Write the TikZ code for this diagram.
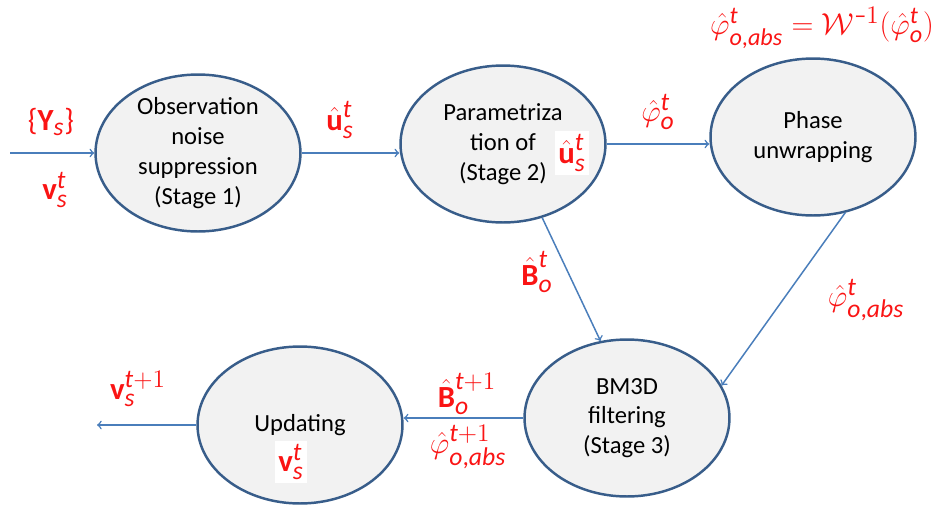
\documentclass[tikz,border=0pt]{standalone}
\usepackage{amsmath,amssymb}
\usepackage{fontspec}
\setmainfont{Carlito}
\usepackage[italic]{mathastext}
\usetikzlibrary{shapes.geometric}

\definecolor{edgeblue}{RGB}{56,93,138}
\definecolor{arrowblue}{RGB}{74,126,187}
\definecolor{fillgray}{RGB}{242,242,242}
\definecolor{labelred}{RGB}{250,20,20}
\newcommand{\bfv}{\text{\bfseries v}}
\newcommand{\bfB}{\text{\bfseries B}}
\newcommand{\bfY}{\text{\bfseries Y}}
\newcommand{\bfu}{\text{\bfseries u}}

\begin{document}
\begin{tikzpicture}[x=0.02cm,y=-0.02cm,
  stage/.style={ellipse,draw=edgeblue,line width=1.4pt,fill=fillgray,
    minimum width=4.1cm,minimum height=3.14cm,inner sep=0pt,align=center,
    font=\fontsize{14}{17}\selectfont},
  flow/.style={draw=arrowblue,line width=0.85pt,->},
  lbl/.style={text=labelred,inner sep=0pt,font=\fontsize{17.5}{20}\selectfont},
  whitebox/.style={lbl,fill=white,inner sep=2pt}]
\useasboundingbox (0,0) rectangle (947,507);

% stages
\node[stage] (obs) at (198,153) {Observation\\noise\\suppression\\(Stage 1)};
\node[stage] (par) at (503,144) {Parametriza\\tion of\\(Stage 2)};
\node[stage] (pha) at (813,137) {Phase\\unwrapping};
\node[stage] (bmd) at (627,418) {BM3D\\filtering\\(Stage 3)};
\node[stage] (upd) at (300,425) {Updating};
\node[whitebox] (upar) at (572,153) {$\hat{\bfu}_s^t$};
\node[whitebox] (vupd) at (291,462) {$\bfv_s^t$};

% free ends
\coordinate (in) at (10,153);
\coordinate (out) at (97,425);

% connectors
\draw[flow] (in) -- (obs.west);
\draw[flow] (obs.east) -- (obs.east -| par.west);
\draw[flow] (par.east) -- (par.east -| pha.west);
\draw[flow] (par.-62) -- (bmd.109);
\draw[flow] (pha.-67) -- (bmd.19);
\draw[flow] (bmd.west) -- (bmd.west -| upd.east);
\draw[flow] (upd.west) -- (out);

% labels
\node[lbl] (ys) at (51,122) {$\{\bfY_s\}$};
\node[lbl] (vs) at (55,190) {$\bfv_s^t$};
\node[lbl] (us) at (340,120) {$\hat{\bfu}_s^t$};
\node[lbl] (po) at (658,112) {$\hat{\varphi}_o^t$};
\node[lbl] (bo) at (537,272) {$\hat{\bfB}_o^t$};
\node[lbl] (pabs) at (866,300) {$\hat{\varphi}_{o,abs}^t$};
\node[lbl] (bnext) at (467,394) {$\hat{\bfB}_o^{t+1}$};
\node[lbl] (pnext) at (468,447) {$\hat{\varphi}_{o,abs}^{t+1}$};
\node[lbl] (vnext) at (138,389) {$\bfv_s^{t+1}$};
\node[lbl,font=\fontsize{16.5}{19}\selectfont] (unwrap) at (822,28)
  {$\hat{\varphi}_{o,abs}^t=\mathcal{W}^{-1}(\hat{\varphi}_o^t)$};

\end{tikzpicture}
\end{document}
